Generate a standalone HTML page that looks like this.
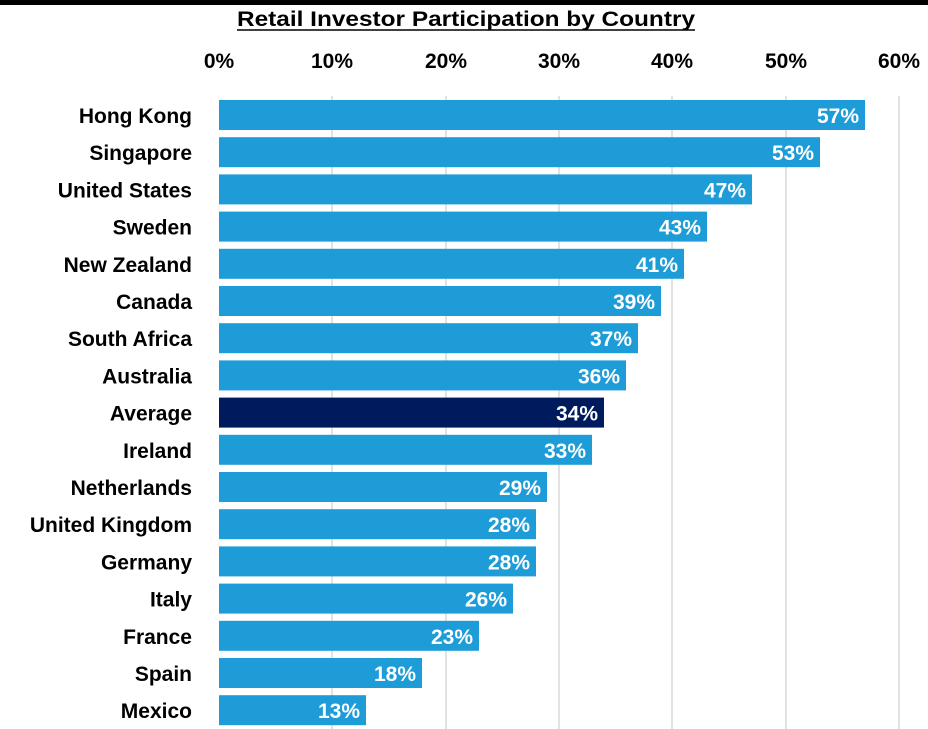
<!DOCTYPE html>
<html><head><style>
html,body{margin:0;padding:0;background:#fff;}
svg{display:block;font-family:"Liberation Sans",Arial,sans-serif;font-weight:bold;}
</style></head><body>
<svg width="928" height="729" viewBox="0 0 928 729" xmlns="http://www.w3.org/2000/svg">
<rect x="0" y="0" width="928" height="5" fill="#000"/>
<text x="237" y="26" font-size="21" fill="#000" textLength="458" lengthAdjust="spacingAndGlyphs">Retail Investor Participation by Country</text>
<line x1="237" y1="30" x2="695" y2="30" stroke="#000" stroke-width="1.5"/>
<g font-size="21" fill="#000" text-anchor="middle">
<text x="219" y="68">0%</text><text x="332" y="68">10%</text><text x="446" y="68">20%</text><text x="559" y="68">30%</text><text x="672" y="68">40%</text><text x="786" y="68">50%</text><text x="899" y="68">60%</text>
</g>
<g stroke="#d9d9d9" stroke-width="1.5">
<line x1="332" y1="96" x2="332" y2="729"/><line x1="446" y1="96" x2="446" y2="729"/><line x1="559" y1="96" x2="559" y2="729"/><line x1="672" y1="96" x2="672" y2="729"/><line x1="786" y1="96" x2="786" y2="729"/><line x1="899" y1="96" x2="899" y2="729"/>
</g>
<g fill="#1e9cd7">
<rect x="219" y="100" width="646" height="30"/>
<rect x="219" y="137.2" width="601" height="30"/>
<rect x="219" y="174.4" width="533" height="30"/>
<rect x="219" y="211.6" width="488" height="30"/>
<rect x="219" y="248.8" width="465" height="30"/>
<rect x="219" y="286" width="442" height="30"/>
<rect x="219" y="323.2" width="419" height="30"/>
<rect x="219" y="360.4" width="407" height="30"/>
<rect x="219" y="397.6" width="385" height="30" fill="#001a5e"/>
<rect x="219" y="434.8" width="373" height="30"/>
<rect x="219" y="472" width="328" height="30"/>
<rect x="219" y="509.2" width="317" height="30"/>
<rect x="219" y="546.4" width="317" height="30"/>
<rect x="219" y="583.6" width="294" height="30"/>
<rect x="219" y="620.8" width="260" height="30"/>
<rect x="219" y="658" width="203" height="30"/>
<rect x="219" y="695.2" width="147" height="30"/>
</g>
<g font-size="21" fill="#000" text-anchor="end">
<text x="192" y="123">Hong Kong</text>
<text x="192" y="160.2">Singapore</text>
<text x="192" y="197.4">United States</text>
<text x="192" y="234.6">Sweden</text>
<text x="192" y="271.8">New Zealand</text>
<text x="192" y="309">Canada</text>
<text x="192" y="346.2">South Africa</text>
<text x="192" y="383.4">Australia</text>
<text x="192" y="420.6">Average</text>
<text x="192" y="457.8">Ireland</text>
<text x="192" y="495">Netherlands</text>
<text x="192" y="532.2">United Kingdom</text>
<text x="192" y="569.4">Germany</text>
<text x="192" y="606.6">Italy</text>
<text x="192" y="643.8">France</text>
<text x="192" y="681">Spain</text>
<text x="192" y="718.2">Mexico</text>
</g>
<g font-size="21" fill="#fff" text-anchor="end">
<text x="859" y="123">57%</text>
<text x="814" y="160.2">53%</text>
<text x="746" y="197.4">47%</text>
<text x="701" y="234.6">43%</text>
<text x="678" y="271.8">41%</text>
<text x="655" y="309">39%</text>
<text x="632" y="346.2">37%</text>
<text x="620" y="383.4">36%</text>
<text x="598" y="420.6">34%</text>
<text x="586" y="457.8">33%</text>
<text x="541" y="495">29%</text>
<text x="530" y="532.2">28%</text>
<text x="530" y="569.4">28%</text>
<text x="507" y="606.6">26%</text>
<text x="473" y="643.8">23%</text>
<text x="416" y="681">18%</text>
<text x="360" y="718.2">13%</text>
</g>
</svg>
</body></html>
